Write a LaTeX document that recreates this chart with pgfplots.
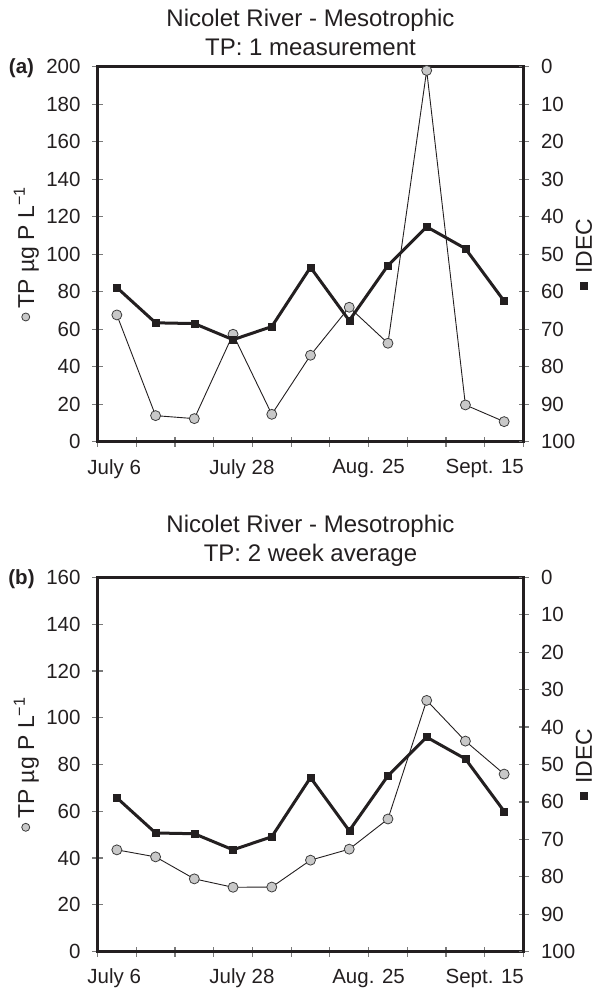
\documentclass[border=0pt]{standalone}
\usepackage{fontspec}
\setmainfont{Liberation Sans}
\usepackage{pgfplots}
\usepackage{pgfplotstable}
\pgfplotsset{compat=1.18}

\definecolor{inkdark}{HTML}{231F20}
\definecolor{tickgray}{HTML}{7A7A7A}
\definecolor{dotfill}{HTML}{C8C8C8}
\definecolor{dotedge}{HTML}{3C3C3C}

% Sampling dates sit half-way between the weekly ticks (x = 0.5, 1.5, ...)
% tp: total phosphorus (ug P/L), idec: diatom index
\pgfplotstableread{
x     tp     idec
0.5   67.6   58.9
1.5   13.9   68.3
2.5   12.3   68.5
3.5   57.3   72.8
4.5   14.6   69.3
5.5   46.1   53.5
6.5   71.7   67.7
7.5   52.5   53.0
8.5   198.0  42.7
9.5   19.6   48.5
10.5  10.7   62.5
}\singletable

\pgfplotstableread{
x     tp     idec
0.5   43.5   58.9
1.5   40.5   68.3
2.5   31.1   68.5
3.5   27.5   72.8
4.5   27.6   69.3
5.5   39.1   53.5
6.5   43.8   67.7
7.5   56.7   53.0
8.5   107.4  42.7
9.5   90.0   48.5
10.5  75.9   62.5
}\averagetable

\newcommand{\tpsym}{\tikz[baseline=-0.36em]\draw[dotedge,fill=dotfill,line width=0.8pt] (0,0) circle (4pt);}
\newcommand{\idecsym}{\tikz[baseline=-0.36em]\fill[inkdark] (-4pt,-4pt) rectangle (4pt,4pt);}

\pgfplotsset{
  panel/.style={
    scale only axis, width=426pt, anchor=south west,
    xmin=0, xmax=11,
    xtick={0,...,11}, xticklabels={},
    extra x ticks={0.43,3.73,7,10},
    extra x tick labels={July 6,July 28,Aug. 25,Sept. 15},
    extra x tick style={major tick length=0pt},
    xticklabel style={yshift=-14pt},
    tick align=center, major tick length=10pt,
    tick style={tickgray, line width=1.2pt},
    axis line style={inkdark, line width=3pt, line cap=rect},
    tick label style={font=\fontsize{20.5}{23}\selectfont, text=inkdark},
    label style={font=\fontsize{23}{26}\selectfont, text=inkdark},
    title style={font=\fontsize{24}{29}\selectfont, align=center, text=inkdark, yshift=1pt},
    /pgf/number format/assume math mode=true,
    clip=false,
  },
  tpline/.style={line width=0.9pt, color=inkdark, mark=*, mark size=5pt,
    mark options={fill=dotfill, draw=dotedge, line width=0.8pt}},
  idecline/.style={line width=3pt, color=inkdark, mark=square*, mark size=3.5pt,
    mark options={fill=inkdark, line width=0.4pt}},
  leftside/.style={xtick pos=bottom, ytick pos=left,
    yticklabel style={xshift=-8.5pt},
    ylabel={\tpsym\hspace{4pt}TP µg P L\textsuperscript{−1}},
    ylabel style={at={(axis description cs:-0.167,0.5)}, anchor=center}},
  rightside/.style={axis y line*=right, axis x line=none,
    ymin=0, ymax=100, y dir=reverse, ytick={0,10,...,100},
    yticklabel style={xshift=9pt},
    ylabel={\idecsym\hspace{8pt}IDEC},
    ylabel style={at={(axis description cs:1.142,0.5)}, anchor=center, rotate=0}},
}

\begin{document}
\begin{tikzpicture}
\useasboundingbox (0pt,0pt) rectangle (595pt,990pt);

% (a) single TP measurement
\begin{axis}[panel, leftside, at={(97.5pt,548.3pt)}, height=375pt,
  ymin=0, ymax=200, ytick={0,20,...,200},
  title={Nicolet River - Mesotrophic\\TP: 1 measurement}]
  \addplot[tpline] table[x=x, y=tp] {\singletable};
\end{axis}
\begin{axis}[panel, rightside, at={(97.5pt,548.3pt)}, height=375pt]
  \addplot[idecline] table[x=x, y=idec] {\singletable};
\end{axis}
\node[font=\fontsize{20.5}{23}\selectfont\bfseries, text=inkdark, anchor=base] at (21.5pt,916pt) {(a)};

% (b) two-week TP average
\begin{axis}[panel, leftside, at={(97.5pt,38.4pt)}, height=374.2pt,
  ymin=0, ymax=160, ytick={0,20,...,160},
  title={Nicolet River - Mesotrophic\\TP: 2 week average}]
  \addplot[tpline] table[x=x, y=tp] {\averagetable};
\end{axis}
\begin{axis}[panel, rightside, at={(97.5pt,38.4pt)}, height=374.2pt]
  \addplot[idecline] table[x=x, y=idec] {\averagetable};
\end{axis}
\node[font=\fontsize{20.5}{23}\selectfont\bfseries, text=inkdark, anchor=base] at (21.5pt,405.4pt) {(b)};
\end{tikzpicture}
\end{document}
